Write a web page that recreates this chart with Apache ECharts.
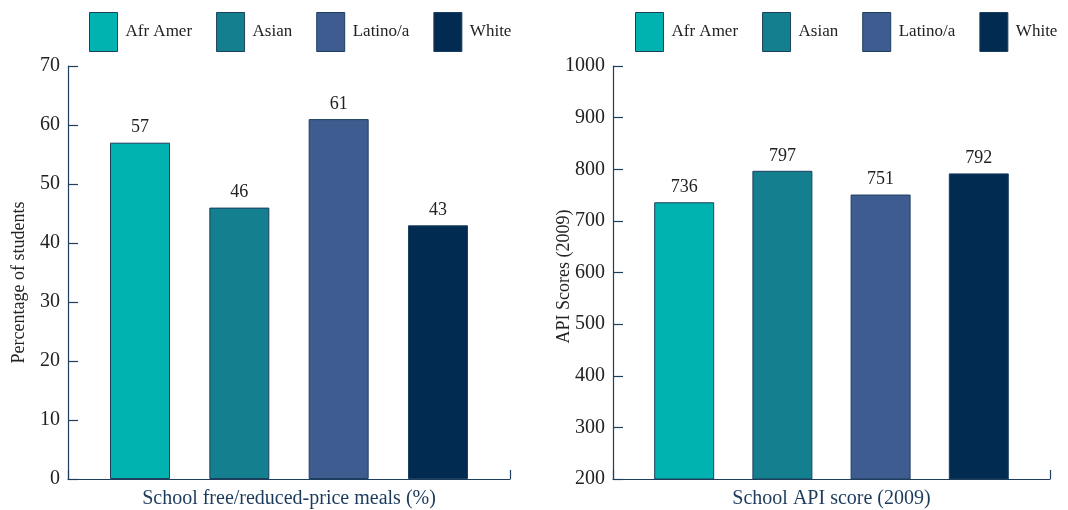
<!DOCTYPE html>
<html>
<head>
<meta charset="utf-8">
<script src="https://cdn.jsdelivr.net/npm/echarts@6/dist/echarts.min.js"></script>
<style>
  html, body { margin: 0; padding: 0; background: #ffffff; }
  #chart { width: 1068px; height: 510px; }
</style>
</head>
<body>
<div id="chart"></div>
<script>
// Groups shown in both panels
const groups = ['Afr Amer', 'Asian', 'Latino/a', 'White'];
const groupColors = ['#00b2b0', '#137f8f', '#3e5c90', '#022b52'];

// Panel 1: share of students in schools with free/reduced-price meals (%)
const mealsPct = [57, 46, 61, 43];
const mealsTicks = { min: 0, max: 70, interval: 10 };

// Panel 2: school API score (2009)
const apiScores = [736, 797, 751, 792];
const apiTicks = { min: 200, max: 1000, interval: 100 };

const FONT = '"Liberation Serif", "DejaVu Serif", serif';
const AXIS_COLOR = '#1f3d5c';
const TEXT_COLOR = '#222222';
const BORDER_COLOR = '#1d3f5f';

// Horizontal extent of each panel around the four bar slots (slot index 0..3)
const X_MIN = -0.725, X_MAX = 3.725;

function xAxisFor(gridIndex, title) {
  return {
    type: 'value',
    gridIndex,
    min: X_MIN,
    max: X_MAX,
    interval: X_MAX - X_MIN,
    name: title,
    nameLocation: 'middle',
    nameGap: 10,
    nameMoveOverlap: false,
    nameTextStyle: { fontFamily: FONT, fontSize: 20, color: '#1b3a5c' },
    axisLine: { show: true, onZero: false, lineStyle: { color: AXIS_COLOR, width: 1.2 } },
    axisTick: { show: true, inside: true, length: 9, lineStyle: { color: AXIS_COLOR, width: 1.2 } },
    axisLabel: { show: false },
    splitLine: { show: false }
  };
}

function yAxisFor(gridIndex, ticks, title, gap, shift) {
  return {
    type: 'value',
    gridIndex,
    min: ticks.min,
    max: ticks.max,
    interval: ticks.interval,
    name: title,
    nameLocation: 'middle',
    nameGap: gap,
    nameMoveOverlap: false,
    nameTextStyle: { fontFamily: FONT, fontSize: 18, color: TEXT_COLOR, padding: [0, shift, 0, 0] },
    axisLine: { show: true, onZero: false, lineStyle: { color: AXIS_COLOR, width: 1.2 } },
    axisTick: { show: true, inside: true, length: 10, lineStyle: { color: AXIS_COLOR, width: 1.2 } },
    axisLabel: { fontFamily: FONT, fontSize: 20, color: TEXT_COLOR, margin: 8, formatter: v => String(v) },
    splitLine: { show: false }
  };
}

// One bar series per group so each gets its own legend entry
function seriesFor(values, axisIndex) {
  return groups.map((g, i) => ({
    name: g,
    type: 'bar',
    xAxisIndex: axisIndex,
    yAxisIndex: axisIndex,
    barWidth: 60,
    barGap: '-100%',
    data: [[i, values[i]]],
    itemStyle: { color: groupColors[i], borderColor: BORDER_COLOR, borderWidth: 1 },
    label: {
      show: true,
      position: 'top',
      distance: 6,
      fontFamily: FONT,
      fontSize: 18,
      color: TEXT_COLOR,
      formatter: p => p.value[1]
    },
    animation: false
  }));
}

function legendFor(left) {
  return {
    left,
    top: 12,
    padding: 0,
    itemWidth: 28,
    itemHeight: 39,
    itemGap: 24,
    icon: 'rect',
    data: groups,
    textStyle: { fontFamily: FONT, fontSize: 17, color: TEXT_COLOR, padding: [0, 0, 0, 3] },
    itemStyle: { borderColor: BORDER_COLOR, borderWidth: 1 }
  };
}

const chart = echarts.init(document.getElementById('chart'), null, { renderer: 'canvas' });
chart.setOption({
  backgroundColor: '#ffffff',
  animation: false,
  legend: [legendFor(89), legendFor(635)],
  grid: [
    { left: 68, right: 558, top: 66, bottom: 31, containLabel: false, outerBoundsMode: 'none' },
    { left: 613, right: 18, top: 66, bottom: 31, containLabel: false, outerBoundsMode: 'none' }
  ],
  xAxis: [
    xAxisFor(0, 'School free/reduced-price meals (%)'),
    xAxisFor(1, 'School API score (2009)')
  ],
  yAxis: [
    yAxisFor(0, mealsTicks, 'Percentage of students', 40, 20),
    yAxisFor(1, apiTicks, 'API Scores (2009)', 40, 8)
  ],
  series: [...seriesFor(mealsPct, 0), ...seriesFor(apiScores, 1)]
});
</script>
</body>
</html>
